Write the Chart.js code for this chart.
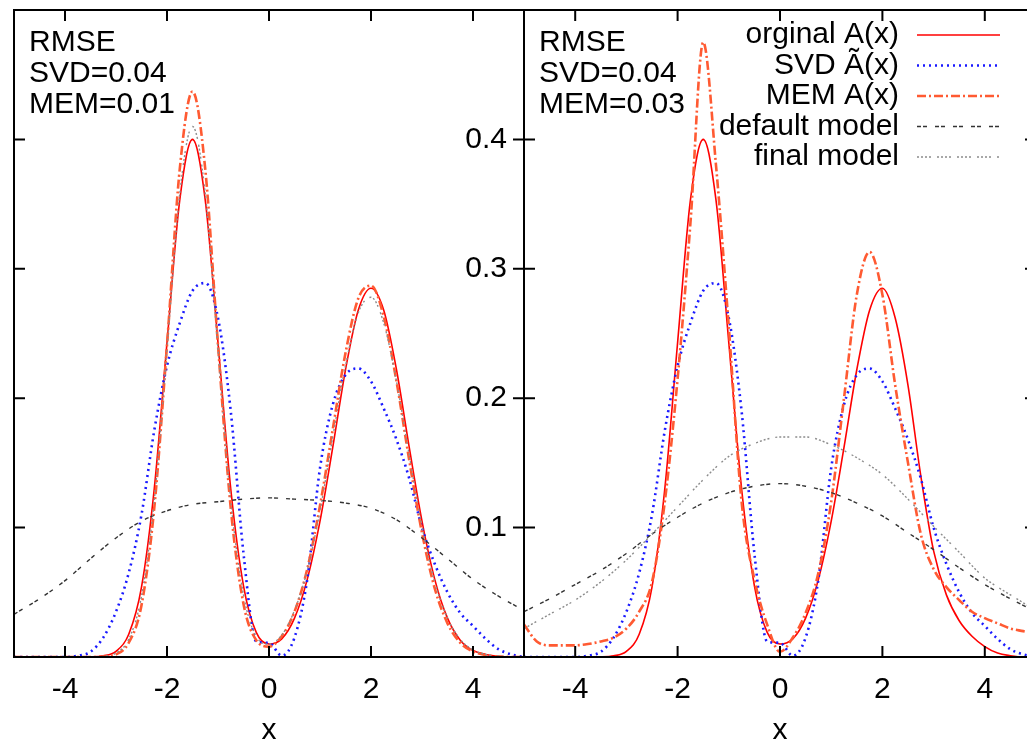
<!DOCTYPE html>
<html>
<head>
<meta charset="utf-8">
<script src="https://cdn.jsdelivr.net/npm/chart.js@4.4.1/dist/chart.umd.min.js"></script>
<style>
  html, body { margin: 0; padding: 0; background: #fff; overflow: hidden; width: 1027px; height: 746px; }
  canvas { position: absolute; top: 0; }
  #left { left: 0; }
  #right { left: 440px; }
</style>
</head>
<body>
<canvas id="left" width="526" height="746" style="width:526px;height:746px"></canvas>
<canvas id="right" width="598" height="746" style="width:598px;height:746px"></canvas>
<script>
// x grids (fine grid for the spectra, coarse grid for the smooth models)
const xs = [-5, -4.75, -4.5, -4.25, -4, -3.75, -3.5, -3.25, -3, -2.75, -2.5, -2.25, -2, -1.75, -1.5, -1.25, -1, -0.75, -0.5, -0.25,
            0, 0.25, 0.5, 0.75, 1, 1.25, 1.5, 1.75, 2, 2.25, 2.5, 2.75, 3, 3.25, 3.5, 3.75, 4, 4.25, 4.5, 4.75, 5];
const xsCoarse = [-5, -4.5, -4, -3.5, -3, -2.5, -2, -1.5, -1, -0.5, 0, 0.5, 1, 1.5, 2, 2.5, 3, 3.5, 4, 4.5, 5];
const xTicks = [-4, -2, 0, 2, 4];
const yTicks = [0.1, 0.2, 0.3, 0.4];

const legendLabels = ['orginal A(x)', 'SVD \u00C3(x)', 'MEM A(x)', 'default model', 'final model'];
const notesLeft = ['RMSE', 'SVD=0.04', 'MEM=0.01'];
const notesRight = ['RMSE', 'SVD=0.04', 'MEM=0.03'];

// left panel
const origLeft = [0, 0, 0, 0, 0, 0, 0.0001, 0.0009, 0.0044, 0.0176, 0.054, 0.130, 0.243, 0.353, 0.400, 0.353, 0.243, 0.130, 0.055, 0.019,
                  0.010, 0.014, 0.030, 0.060, 0.105, 0.162, 0.222, 0.268, 0.285, 0.268, 0.222, 0.162, 0.105, 0.060, 0.030, 0.013, 0.005, 0.002, 0.0005, 0, 0];
const svdVals = [0, 0, 0, 0, 0, 0.001, 0.004, 0.015, 0.035, 0.065, 0.110, 0.175, 0.225, 0.258, 0.283, 0.289, 0.262, 0.190, 0.080, 0.012,
                 0.011, 0.001, 0.015, 0.060, 0.146, 0.195, 0.218, 0.223, 0.213, 0.192, 0.168, 0.138, 0.100, 0.072, 0.050, 0.034, 0.024, 0.014, 0.006, 0.002, 0];
const memLeft = [0, 0, 0, 0, 0, 0, 0, 0.0003, 0.002, 0.011, 0.040, 0.115, 0.241, 0.377, 0.437, 0.377, 0.241, 0.115, 0.041, 0.013,
                 0.008, 0.016, 0.035, 0.068, 0.117, 0.176, 0.235, 0.277, 0.287, 0.263, 0.213, 0.152, 0.096, 0.053, 0.026, 0.011, 0.0043, 0.0014, 0.0004, 0, 0];
const finalLeft = [0, 0, 0, 0, 0, 0, 0, 0.0005, 0.0031, 0.0137, 0.047, 0.121, 0.238, 0.358, 0.410, 0.358, 0.238, 0.121, 0.048, 0.016,
                   0.010, 0.017, 0.036, 0.067, 0.113, 0.170, 0.225, 0.266, 0.278, 0.258, 0.213, 0.156, 0.101, 0.058, 0.030, 0.0136, 0.0055, 0.002, 0.0007, 0, 0];
const defaultLeft = [0.033, 0.045, 0.059, 0.076, 0.092, 0.105, 0.113, 0.118, 0.120, 0.122, 0.123, 0.122, 0.121, 0.119, 0.115, 0.106, 0.092, 0.076, 0.060, 0.047, 0.036];

// right panel
const origRight = [0, 0, 0, 0, 0, 0, 0.0001, 0.0009, 0.0044, 0.0176, 0.054, 0.130, 0.243, 0.353, 0.400, 0.353, 0.243, 0.130, 0.055, 0.019,
                   0.010, 0.014, 0.030, 0.060, 0.105, 0.162, 0.222, 0.268, 0.285, 0.262, 0.210, 0.140, 0.082, 0.048, 0.028, 0.016, 0.008, 0.003, 0.001, 0, 0];
const memRight = [0.025, 0.012, 0.009, 0.009, 0.009, 0.010, 0.012, 0.015, 0.022, 0.035, 0.058, 0.120, 0.215, 0.335, 0.475, 0.380, 0.255, 0.120, 0.060, 0.025,
                  0.004, 0.015, 0.034, 0.065, 0.120, 0.200, 0.280, 0.313, 0.280, 0.210, 0.150, 0.095, 0.068, 0.054, 0.044, 0.035, 0.030, 0.026, 0.022, 0.020, 0.018];
const defaultRight = [0.035, 0.045, 0.056, 0.067, 0.080, 0.095, 0.108, 0.119, 0.127, 0.132, 0.134, 0.132, 0.127, 0.119, 0.109, 0.096, 0.083, 0.069, 0.056, 0.045, 0.035];
const finalRight = [0.022, 0.033, 0.044, 0.058, 0.075, 0.095, 0.116, 0.137, 0.155, 0.165, 0.170, 0.170, 0.164, 0.154, 0.141, 0.122, 0.101, 0.081, 0.061, 0.048, 0.036];

Chart.defaults.font.family = "'Liberation Sans', Arial, sans-serif";
Chart.defaults.color = '#000';

const styles = [
    { borderColor: '#ff0000', borderWidth: 1.6, borderDash: [] },
    { borderColor: '#1a1aff', borderWidth: 2.6, borderDash: [2, 4] },
    { borderColor: '#ff5a32', borderWidth: 2.6, borderDash: [9, 3, 2, 3] },
    { borderColor: '#333333', borderWidth: 1.4, borderDash: [4, 2, 4, 8] },
    { borderColor: '#8c8c8c', borderWidth: 1.4, borderDash: [2, 2, 2, 2, 2, 2, 2, 6] }
];

function pts(x, y) {
    return x.map((v, i) => ({ x: v, y: y[i] }));
}

// series: list of [xArray, yArray] in legend order
function makeDatasets(series) {
    return series.map((s, i) => Object.assign({
        label: legendLabels[i],
        data: pts(s[0], s[1]),
        fill: false,
        pointRadius: 0,
        cubicInterpolationMode: 'monotone',
        order: 5 - i
    }, styles[i]));
}

// frame, inward ticks, RMSE note and the legend
const decorPlugin = {
    id: 'decor',
    afterDatasetsDraw(chart, args, opts) {
        const { ctx, chartArea: a, scales: { x, y } } = chart;
        ctx.save();
        ctx.strokeStyle = '#000';
        ctx.lineWidth = 2;
        ctx.setLineDash([]);
        ctx.strokeRect(a.left, a.top, a.right - a.left, a.bottom - a.top);
        ctx.beginPath();
        xTicks.forEach(v => {
            const px = x.getPixelForValue(v);
            ctx.moveTo(px, a.bottom); ctx.lineTo(px, a.bottom - 11);
            ctx.moveTo(px, a.top); ctx.lineTo(px, a.top + 11);
        });
        yTicks.forEach(v => {
            const py = y.getPixelForValue(v);
            ctx.moveTo(a.left, py); ctx.lineTo(a.left + 11, py);
            ctx.moveTo(a.right, py); ctx.lineTo(a.right - 11, py);
        });
        ctx.stroke();

        ctx.font = "30px 'Liberation Sans', Arial, sans-serif";
        ctx.fillStyle = '#000';
        ctx.textBaseline = 'middle';
        ctx.textAlign = 'left';
        opts.notes.forEach((t, i) => ctx.fillText(t, a.left + 15, a.top + 33 + i * 31));

        if (opts.legend) {
            chart.data.datasets.forEach((ds, i) => {
                const ry = a.top + 25 + i * 30.5;
                ctx.textAlign = 'right';
                ctx.fillText(ds.label, a.right - 137, ry);
                ctx.beginPath();
                ctx.strokeStyle = ds.borderColor;
                ctx.lineWidth = ds.borderWidth;
                ctx.setLineDash(ds.borderDash);
                ctx.moveTo(a.right - 119, ry);
                ctx.lineTo(a.right - 36, ry);
                ctx.stroke();
            });
        }
        ctx.restore();
    }
};

function makeOptions(showY, notes, legend) {
    return {
        responsive: false,
        animation: false,
        layout: { padding: { left: showY ? 0 : 14, top: 10, right: 2, bottom: 0 } },
        plugins: {
            legend: { display: false },
            tooltip: { enabled: false },
            decor: { notes: notes, legend: legend }
        },
        scales: {
            x: {
                type: 'linear',
                min: -5,
                max: 5,
                afterBuildTicks: s => { s.ticks = xTicks.map(v => ({ value: v })); },
                afterFit: s => { s.height = 89; s.paddingLeft = 0; s.paddingRight = 0; },
                grid: { display: false, drawTicks: false },
                border: { display: false },
                ticks: { font: { size: 30 }, padding: 15, callback: v => String(v) },
                title: { display: true, text: 'x', font: { size: 30, lineHeight: 1.0 }, padding: { top: 0, bottom: 0 } }
            },
            y: {
                type: 'linear',
                min: 0,
                max: 0.5,
                display: showY,
                afterBuildTicks: s => { s.ticks = yTicks.map(v => ({ value: v })); },
                afterFit: s => { s.width = showY ? 84 : 0; s.paddingTop = 0; s.paddingBottom = 0; },
                grid: { display: false, drawTicks: false },
                border: { display: false },
                ticks: { font: { size: 30 }, padding: 17, callback: v => v.toFixed(1) }
            }
        }
    };
}

new Chart(document.getElementById('left').getContext('2d'), {
    type: 'line',
    data: { datasets: makeDatasets([[xs, origLeft], [xs, svdVals], [xs, memLeft], [xsCoarse, defaultLeft], [xs, finalLeft]]) },
    options: makeOptions(false, notesLeft, false),
    plugins: [decorPlugin]
});

new Chart(document.getElementById('right').getContext('2d'), {
    type: 'line',
    data: { datasets: makeDatasets([[xs, origRight], [xs, svdVals], [xs, memRight], [xsCoarse, defaultRight], [xsCoarse, finalRight]]) },
    options: makeOptions(true, notesRight, true),
    plugins: [decorPlugin]
});
</script>
</body>
</html>
